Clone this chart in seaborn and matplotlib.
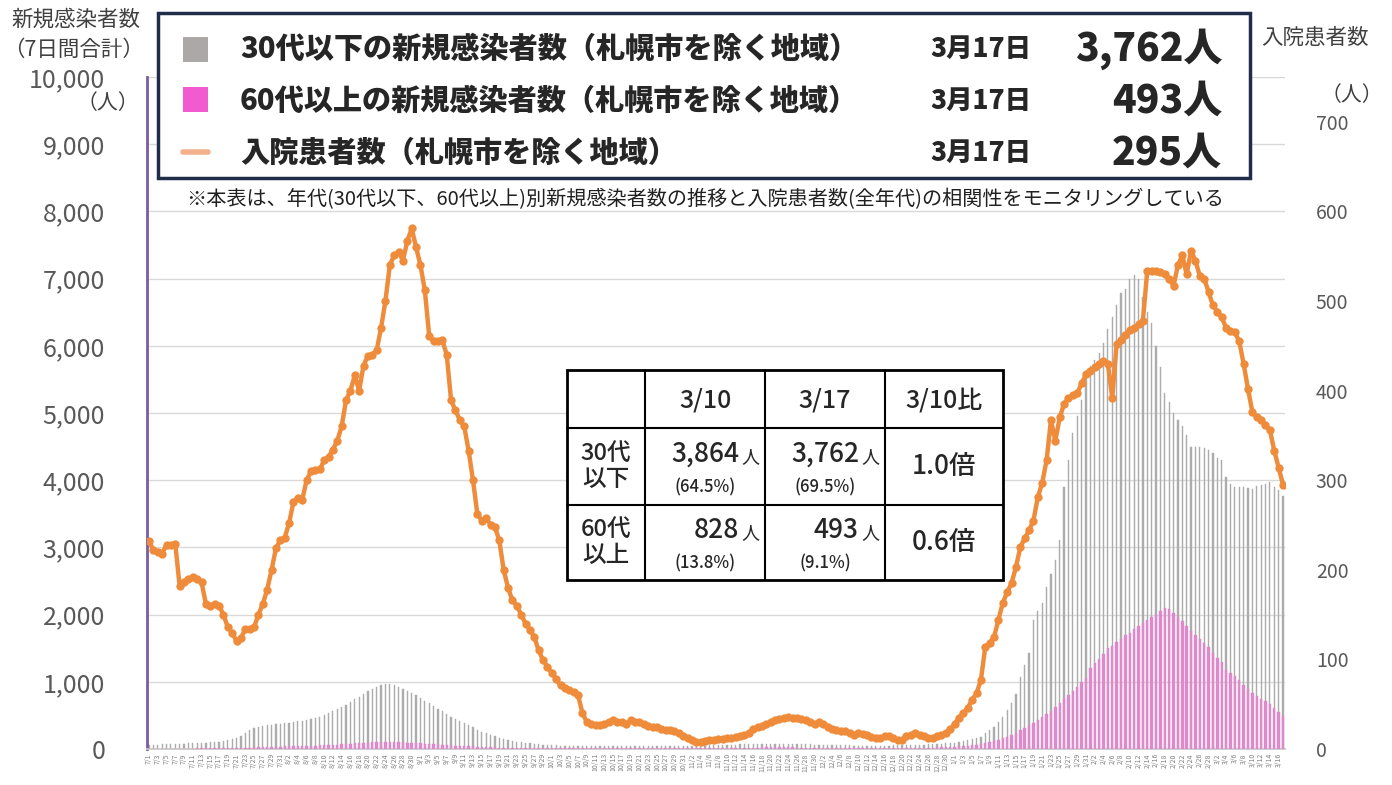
import numpy as np
import matplotlib
matplotlib.use("Agg")
import matplotlib.pyplot as plt
import seaborn as sns
from matplotlib.patches import Rectangle
from matplotlib.lines import Line2D
from datetime import date, timedelta

# 7-day totals of new cases, age 30s and under (outside Sapporo), 7/1 - 3/17
young = [60, 62, 65, 68, 70, 72, 75, 78, 80, 82,
         85, 88, 92, 95, 100, 105, 110, 120, 135, 150,
         170, 200, 240, 280, 310, 330, 345, 355, 360, 365,
         370, 380, 390, 400, 410, 420, 430, 445, 460, 480,
         500, 530, 560, 590, 620, 660, 700, 740, 780, 820,
         860, 900, 930, 955, 970, 965, 950, 930, 900, 870,
         840, 800, 760, 720, 680, 640, 600, 560, 520, 480,
         440, 410, 380, 350, 320, 290, 260, 235, 210, 190,
         170, 150, 135, 120, 110, 100, 90, 82, 75, 70,
         65, 60, 58, 55, 52, 50, 48, 46, 45, 44,
         44, 43, 42, 42, 41, 40, 40, 40, 41, 42,
         42, 43, 44, 45, 46, 46, 47, 48, 48, 49,
         50, 50, 51, 52, 52, 53, 54, 55, 56, 57,
         58, 60, 62, 64, 66, 68, 70, 72, 74, 75,
         76, 77, 78, 78, 78, 77, 76, 75, 74, 72,
         70, 68, 66, 64, 62, 60, 58, 56, 55, 54,
         53, 52, 52, 51, 50, 50, 50, 50, 51, 52,
         53, 54, 55, 56, 58, 60, 62, 65, 68, 72,
         76, 80, 85, 90, 96, 104, 115, 128, 145, 162,
         180, 240, 290, 330, 400, 480, 580, 680, 820, 1070,
         1250, 1430, 1920, 2050, 2170, 2410, 2600, 2810, 3110, 3900,
         4300, 4700, 4950, 5190, 5500, 5700, 5790, 5900, 6040, 6250,
         6430, 6600, 6790, 6850, 7000, 7050, 7000, 6730, 6500, 6340,
         6000, 5690, 5300, 5160, 5000, 4900, 4800, 4670, 4500, 4500,
         4500, 4480, 4450, 4400, 4330, 4300, 4050, 3950, 3900, 3900,
         3900, 3880, 3864, 3910, 3930, 3950, 3970, 3900, 3850, 3762]

# 7-day totals, age 60s and over
old = [5, 5, 5, 6, 6, 6, 6, 7, 7, 7,
       7, 8, 8, 8, 9, 9, 10, 11, 12, 14,
       16, 18, 20, 22, 24, 26, 28, 30, 32, 34,
       36, 38, 40, 42, 44, 46, 48, 50, 52, 55,
       58, 60, 63, 66, 70, 74, 78, 82, 86, 90,
       94, 98, 100, 102, 104, 104, 103, 101, 98, 95,
       92, 88, 84, 80, 76, 72, 68, 64, 60, 56,
       52, 48, 44, 41, 38, 35, 32, 29, 26, 24,
       22, 20, 18, 17, 16, 15, 14, 13, 12, 12,
       11, 11, 10, 10, 10, 10, 9, 9, 9, 9,
       9, 9, 8, 8, 8, 8, 8, 8, 9, 9,
       9, 9, 10, 10, 10, 10, 11, 11, 11, 12,
       12, 12, 13, 13, 13, 14, 14, 15, 15, 16,
       16, 17, 18, 18, 19, 20, 20, 21, 22, 22,
       23, 23, 24, 24, 24, 24, 23, 23, 22, 22,
       21, 20, 20, 19, 18, 18, 17, 17, 16, 16,
       15, 15, 15, 14, 14, 14, 14, 14, 15, 15,
       15, 16, 16, 17, 17, 18, 19, 20, 21, 22,
       24, 26, 28, 30, 34, 38, 44, 50, 58, 66,
       76, 88, 100, 115, 135, 160, 185, 210, 245, 280,
       310, 350, 390, 430, 470, 520, 570, 625, 680, 740,
       800, 860, 920, 990, 1060, 1200, 1280, 1340, 1420, 1500,
       1540, 1590, 1640, 1700, 1730, 1780, 1830, 1880, 1920, 1960,
       2000, 2050, 2100, 2080, 2020, 1960, 1900, 1830, 1760, 1700,
       1640, 1580, 1520, 1430, 1360, 1300, 1180, 1130, 1080, 1020,
       950, 890, 828, 790, 750, 710, 670, 610, 550, 493]

# hospitalized patients (outside Sapporo)
hosp = [232, 222, 220, 218, 228, 228, 229, 182, 186, 190,
        192, 190, 186, 162, 160, 162, 160, 150, 136, 130,
        120, 124, 134, 134, 136, 150, 162, 178, 200, 224,
        233, 236, 252, 276, 280, 278, 300, 310, 311, 312,
        322, 326, 334, 344, 360, 389, 400, 417, 400, 428,
        439, 440, 445, 470, 500, 540, 551, 555, 545, 567,
        581, 560, 540, 512, 461, 455, 455, 456, 440, 389,
        378, 367, 360, 333, 300, 262, 255, 258, 250, 248,
        233, 200, 180, 166, 160, 150, 140, 133, 125, 110,
        99, 92, 85, 78, 71, 68, 66, 64, 60, 40,
        30, 28, 27, 27, 28, 30, 32, 30, 30, 28,
        32, 30, 30, 28, 26, 25, 24, 22, 21, 21,
        20, 18, 15, 12, 10, 8, 8, 9, 10, 10,
        11, 11, 12, 12, 13, 14, 16, 18, 22, 24,
        26, 28, 30, 32, 34, 35, 36, 35, 35, 34,
        32, 30, 28, 30, 28, 25, 22, 21, 20, 20,
        18, 16, 18, 17, 16, 13, 12, 12, 14, 15,
        12, 10, 10, 14, 16, 18, 16, 14, 12, 12,
        14, 16, 18, 22, 28, 35, 40, 46, 55, 62,
        77, 114, 118, 125, 144, 163, 175, 185, 203, 225,
        235, 244, 255, 281, 297, 322, 367, 344, 370, 385,
        392, 395, 397, 408, 418, 422, 426, 430, 433, 430,
        392, 452, 456, 462, 468, 470, 474, 478, 534, 534,
        534, 532, 530, 524, 517, 540, 551, 530, 556, 545,
        528, 525, 510, 495, 488, 482, 470, 467, 465, 455,
        430, 402, 376, 370, 367, 362, 356, 333, 314, 295]

start = date(2022, 7, 1)
days = np.arange(len(young))
date_labels = [f"{d.month}/{d.day}" for d in (start + timedelta(days=int(i)) for i in days)]

legend_rows = ["30代以下の新規感染者数（札幌市を除く地域）",
               "60代以上の新規感染者数（札幌市を除く地域）",
               "入院患者数（札幌市を除く地域）"]
legend_vals = ["3,762人", "493人", "295人"]
legend_date = "3月17日"

tbl_head = ["3/10", "3/17", "3/10比"]
tbl_rows = ["30代\n以下", "60代\n以上"]
tbl_num = [["3,864", "3,762"], ["828", "493"]]
tbl_pct = [["(64.5%)", "(69.5%)"], ["(13.8%)", "(9.1%)"]]
tbl_ratio = ["1.0倍", "0.6倍"]

sns.set_theme(style="white")
plt.rcParams['font.family'] = ['Noto Sans CJK JP', 'DejaVu Sans']

W, H = 1392, 785
fig = plt.figure(figsize=(W / 100, H / 100), dpi=100)


def fx(x):
    return x / W


def fy(y):
    return 1 - y / H


ax = fig.add_axes([fx(146.8), fy(749), (1285.2 - 146.8) / W, (749 - 77) / H])
ax.bar(days, young, width=0.28, color="#acacac", edgecolor="#acacac", linewidth=0.3, zorder=2)
ax.bar(days, old, width=0.55, color="#e088cc", edgecolor="#e088cc", linewidth=0.3, zorder=3)
ax.set_xlim(-0.5, len(days) - 0.5)
ax.set_ylim(0, 10000)
ax.set_yticks(range(0, 10001, 1000))
ax.set_yticklabels([f"{v:,}" for v in range(0, 10001, 1000)])
ax.yaxis.grid(True, color="#d9d9d9", lw=1, zorder=0)
ax.set_xticks(days[::2])
ax.set_xticklabels(date_labels[::2], rotation=90, fontsize=5, color="#808080")
ax.set_xticks(days, minor=True)
ax.tick_params(axis="x", which="both", length=2, color="#c0c0c0", pad=1)
ax.tick_params(axis="y", labelsize=18, pad=30, length=0, colors="#595959")
for s in ["top", "right"]:
    ax.spines[s].set_visible(False)
ax.spines["left"].set_color("#7b5c9c")
ax.spines["left"].set_linewidth(2)
ax.spines["bottom"].set_color("#c8c8c8")

ax2 = ax.twinx()
sns.lineplot(x=days, y=hosp, ax=ax2, color="#ef8c3c", lw=3.2, marker="o",
             markersize=6, markeredgewidth=0, zorder=5)
ax2.set_ylim(0, 750)
ax2.set_yticks(range(0, 701, 100))
ax2.tick_params(axis="y", labelsize=14, pad=22, length=0, colors="#595959")
ax2.set_ylabel("")
for s in ax2.spines.values():
    s.set_visible(False)

# axis captions
fig.text(fx(76), fy(20), "新規感染者数", fontsize=15.5, ha="center", va="center", color="#404040")
fig.text(fx(74), fy(50), "（7日間合計）", fontsize=15.5, ha="center", va="center", color="#404040")
fig.text(fx(108), fy(103), "（人）", fontsize=15, ha="center", va="center", color="#404040")
fig.text(fx(1315), fy(38), "入院患者数", fontsize=15.5, ha="center", va="center", color="#404040")
fig.text(fx(1352), fy(95), "（人）", fontsize=15, ha="center", va="center", color="#404040")

# legend box
fig.add_artist(Rectangle((fx(158), fy(178)), (1250 - 158) / W, (178 - 13) / H,
                         transform=fig.transFigure, facecolor="white",
                         edgecolor="#1f2d4a", lw=2.5, zorder=10))
fig.add_artist(Rectangle((fx(183), fy(62)), 25 / W, 25 / H, transform=fig.transFigure,
                         facecolor="#aca8a8", edgecolor="none", zorder=11))
fig.add_artist(Rectangle((fx(183), fy(112)), 25 / W, 25 / H, transform=fig.transFigure,
                         facecolor="#f25bd0", edgecolor="none", zorder=11))
fig.add_artist(Line2D([fx(183), fx(208)], [fy(152), fy(152)], transform=fig.transFigure,
                      color="#f3b08a", lw=4, zorder=11))
for i, (row, val) in enumerate(zip(legend_rows, legend_vals)):
    yy = fy(49 + i * 52)
    fig.text(fx(240), yy, row, fontsize=21, fontweight=900, ha="left", va="center", zorder=12)
    fig.text(fx(930), yy, legend_date, fontsize=19, fontweight=900, ha="left", va="center", zorder=12)
    fig.text(fx(1222), yy, val, fontsize=28, fontweight=900, ha="right", va="center", zorder=12)

fig.text(fx(705), fy(199),
         "※本表は、年代(30代以下、60代以上)別新規感染者数の推移と入院患者数(全年代)の相関性をモニタリングしている",
         fontsize=14.5, ha="center", va="center", color="#202020", zorder=12)

# comparison table
xs = [567, 645, 765, 885, 1003]
ys = [370, 428, 505, 580]
fig.add_artist(Rectangle((fx(xs[0]), fy(ys[-1])), (xs[-1] - xs[0]) / W, (ys[-1] - ys[0]) / H,
                         transform=fig.transFigure, facecolor="white", edgecolor="black",
                         lw=2, zorder=10))
for x in xs[1:-1]:
    fig.add_artist(Line2D([fx(x), fx(x)], [fy(ys[0]), fy(ys[-1])], transform=fig.transFigure,
                          color="black", lw=1.5, zorder=11))
for y in ys[1:-1]:
    fig.add_artist(Line2D([fx(xs[0]), fx(xs[-1])], [fy(y), fy(y)], transform=fig.transFigure,
                          color="black", lw=1.5, zorder=11))
for j, h in enumerate(tbl_head):
    fig.text(fx((xs[j + 1] + xs[j + 2]) / 2), fy(400), h, fontsize=18, fontweight="medium",
             ha="center", va="center", zorder=12)
for i in range(2):
    yc = (ys[i + 1] + ys[i + 2]) / 2
    fig.text(fx(606), fy(yc), tbl_rows[i], fontsize=17, fontweight="medium", ha="center",
             va="center", linespacing=1.15, zorder=12)
    for j in range(2):
        xc = (xs[j + 1] + xs[j + 2]) / 2
        fig.text(fx(xc + 34), fy(yc - 12), tbl_num[i][j], fontsize=19, fontweight="medium",
                 ha="right", va="center", zorder=12)
        fig.text(fx(xc + 36), fy(yc - 9), "人", fontsize=13, ha="left", va="center", zorder=12)
        fig.text(fx(xc), fy(yc + 21), tbl_pct[i][j], fontsize=12, fontweight="medium",
                 ha="center", va="center", zorder=12)
    fig.text(fx(944), fy(yc), tbl_ratio[i], fontsize=19, fontweight="medium", ha="center",
             va="center", zorder=12)

fig.savefig("out.png", dpi=100)
